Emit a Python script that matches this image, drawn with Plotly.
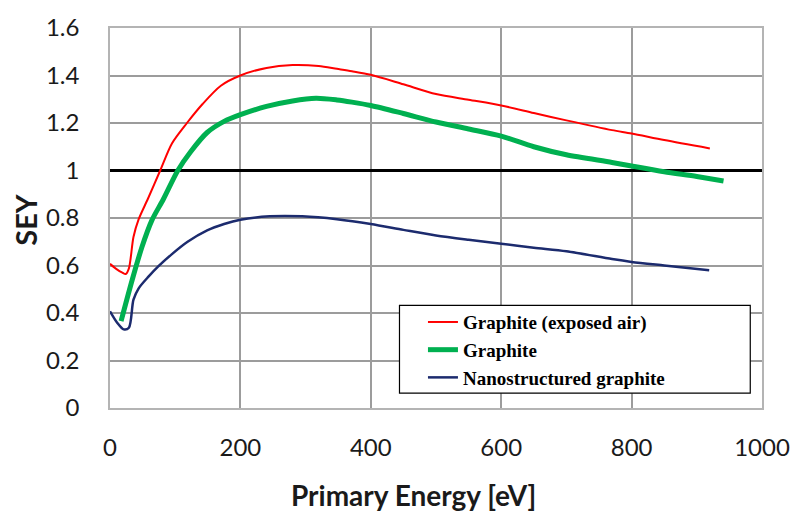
import plotly.graph_objects as go

# Secondary electron yield vs primary energy
air_x = [0, 10, 19, 24, 29, 36, 44, 58, 77, 95, 118, 142, 170, 200, 240, 280, 320,
         348, 371, 400, 450, 500, 550, 600, 650, 700, 770, 800, 850, 920]
air_y = [0.607, 0.585, 0.570, 0.564, 0.588, 0.720, 0.795, 0.880, 1.000, 1.114, 1.200,
         1.280, 1.357, 1.400, 1.432, 1.444, 1.440, 1.428, 1.418, 1.403, 1.363, 1.322,
         1.298, 1.274, 1.242, 1.211, 1.170, 1.156, 1.128, 1.093]

gr_x = [17, 34, 49, 64, 82, 104, 124, 149, 175, 200, 240, 280, 316, 348, 371, 400,
        450, 500, 550, 600, 650, 700, 770, 800, 850, 900, 941]
gr_y = [0.366, 0.539, 0.678, 0.789, 0.880, 1.000, 1.080, 1.160, 1.207, 1.235,
        1.270, 1.293, 1.304, 1.297, 1.288, 1.274, 1.240, 1.204, 1.175, 1.145, 1.100,
        1.066, 1.034, 1.019, 0.995, 0.975, 0.956]

nano_x = [0, 11, 21, 29, 36, 44, 59, 74, 95, 119, 149, 175, 200, 245, 295, 348, 400,
          450, 500, 550, 600, 650, 700, 770, 800, 850, 919]
nano_y = [0.407, 0.359, 0.331, 0.338, 0.456, 0.504, 0.553, 0.596, 0.648, 0.700, 0.748,
          0.775, 0.793, 0.807, 0.807, 0.795, 0.775, 0.750, 0.726, 0.708, 0.692, 0.675,
          0.660, 0.627, 0.615, 0.600, 0.580]

unity_x = [0, 1000]
unity_y = [1, 1]

series_names = ["Graphite (exposed air)", "Graphite", "Nanostructured graphite"]
x_ticks = [0, 200, 400, 600, 800, 1000]
y_ticks = [0, 0.2, 0.4, 0.6, 0.8, 1, 1.2, 1.4, 1.6]

GRID = "#9c9c9c"
FRAME = "#b4b4b4"
TICK_FONT = dict(family="Lato", size=24, color="#1a1a1a")

fig = go.Figure()
fig.add_trace(go.Scatter(x=unity_x, y=unity_y, mode="lines", showlegend=False,
                         line=dict(color="#000000", width=3), hoverinfo="skip"))
fig.add_trace(go.Scatter(x=air_x, y=air_y, mode="lines", name=series_names[0],
                         line=dict(color="#ff0000", width=2, shape="spline", smoothing=0.8)))
fig.add_trace(go.Scatter(x=gr_x, y=gr_y, mode="lines", name=series_names[1],
                         line=dict(color="#00b050", width=5, shape="spline", smoothing=0.8)))
fig.add_trace(go.Scatter(x=nano_x, y=nano_y, mode="lines", name=series_names[2],
                         line=dict(color="#1c2b6e", width=2.5, shape="spline", smoothing=0.8)))

# white legend frame
fig.add_shape(type="rect", xref="paper", yref="paper",
              x0=0.444, x1=0.982, y0=0.039, y1=0.270,
              fillcolor="white", line=dict(color="#000000", width=1.2), layer="above")

fig.update_layout(
    width=802, height=526,
    margin=dict(l=110, r=25, t=20, b=118),
    paper_bgcolor="white", plot_bgcolor="white",
    showlegend=True,
    legend=dict(x=0.48, y=0.276, xanchor="left", yanchor="top",
                bgcolor="rgba(0,0,0,0)", borderwidth=0,
                font=dict(family="Liberation Serif", size=19, color="#000000", weight="bold"),
                itemwidth=30),
    xaxis=dict(range=[0, 1000], tickvals=x_ticks, showgrid=True, gridcolor=GRID, gridwidth=1.5,
               showline=True, linecolor=FRAME, linewidth=1.5, mirror=True, zeroline=False,
               tickfont=TICK_FONT, ticks="", ticklabelstandoff=17,
               ticklabeloverflow="allow"),
    yaxis=dict(range=[0, 1.6], tickvals=y_ticks, showgrid=True, gridcolor=GRID, gridwidth=1.5,
               showline=True, linecolor=FRAME, linewidth=1.5, mirror=True, zeroline=False,
               tickfont=TICK_FONT, ticks="", ticklabelstandoff=24),
    annotations=[
        dict(text="Primary Energy [eV]", xref="paper", yref="paper", x=0.466, y=-0.228,
             xanchor="center", yanchor="middle", showarrow=False,
             font=dict(family="Lato", size=28, color="#1a1a1a", weight="bold")),
        dict(text="SEY", xref="paper", yref="paper", x=-0.13, y=0.496, textangle=-90,
             xanchor="center", yanchor="middle", showarrow=False,
             font=dict(family="Lato", size=29, color="#1a1a1a", weight="bold")),
    ],
)

fig.write_html("out.html")
